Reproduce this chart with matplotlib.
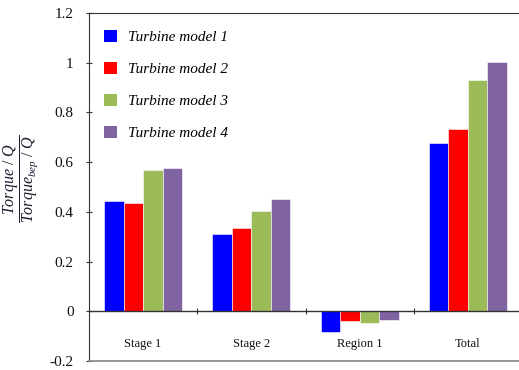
import numpy as np
import matplotlib
matplotlib.use("Agg")
import matplotlib.pyplot as plt
from matplotlib.patches import Patch

plt.rcParams["font.family"] = ["Liberation Serif", "DejaVu Serif"]
plt.rcParams["mathtext.fontset"] = "custom"
plt.rcParams["mathtext.rm"] = "Liberation Serif"
plt.rcParams["mathtext.it"] = "Liberation Serif:italic"

categories = ["Stage 1", "Stage 2", "Region 1", "Total"]
series_names = ["Turbine model 1", "Turbine model 2", "Turbine model 3", "Turbine model 4"]
model1 = [0.444, 0.311, -0.083, 0.679]
model2 = [0.435, 0.335, -0.040, 0.733]
model3 = [0.570, 0.403, -0.046, 0.930]
model4 = [0.578, 0.451, -0.034, 1.002]
yticks = [-0.2, 0, 0.2, 0.4, 0.6, 0.8, 1, 1.2]
ytick_labels = ["-0.2", "0", "0.2", "0.4", "0.6", "0.8", "1", "1.2"]

colors = ["#0000FF", "#FF0000", "#9BBB59", "#8064A2"]
series = [model1, model2, model3, model4]

W, H = 519, 370
fig = plt.figure(figsize=(W / 100, H / 100), dpi=100)
ax = fig.add_axes([89 / W, 9 / H, (522 - 89) / W, (361 - 13) / H])

x = np.arange(len(categories))
bw = 0.18
for i, (vals, c) in enumerate(zip(series, colors)):
    ax.bar(x + (i - 1.5) * bw, vals, width=bw, color=c, edgecolor="white",
           linewidth=0.4, zorder=2)

ax.set_xlim(-0.5, len(categories) - 0.5)
ax.set_ylim(-0.2, 1.2)

# zero baseline with small separators between groups
ax.axhline(0, color="#333333", lw=1.0, zorder=3)
seps = np.arange(len(categories) - 1) + 0.5
ax.vlines(seps, -0.012, 0.012, color="#333333", lw=0.8, zorder=3)

for xi, lab in zip(x, categories):
    ax.text(xi, -0.133, lab, ha="center", va="center", fontsize=9, color="#111111")

ax.set_xticks([])
ax.set_yticks(yticks)
ax.set_yticklabels(ytick_labels, fontsize=11, color="#111111")
ax.tick_params(axis="y", direction="inout", length=4, width=0.8, pad=9, color="#333333")

ax.spines["right"].set_visible(False)
ax.spines["left"].set_color("#333333")
ax.spines["top"].set_color("#333333")
ax.spines["bottom"].set_color("#888888")
ax.spines["bottom"].set_linewidth(1.2)

fig.text(21 / W, 1 - 179 / H,
         r"$\dfrac{Torque\ /\ Q}{Torque_{bep}\ /\ Q}$",
         rotation=90, ha="center", va="center", fontsize=11.5, color="#1c1c30")

handles = [Patch(facecolor=c, edgecolor="none") for c in colors]
leg = ax.legend(handles, series_names, loc="upper left",
                bbox_to_anchor=(1 / (522 - 89), 1 - 3 / (361 - 13)),
                frameon=False, handlelength=0.85, handleheight=0.85,
                handletextpad=0.75, labelspacing=1.15,
                prop={"family": "Liberation Serif", "style": "italic", "size": 11})

fig.savefig("out.png", dpi=100)
